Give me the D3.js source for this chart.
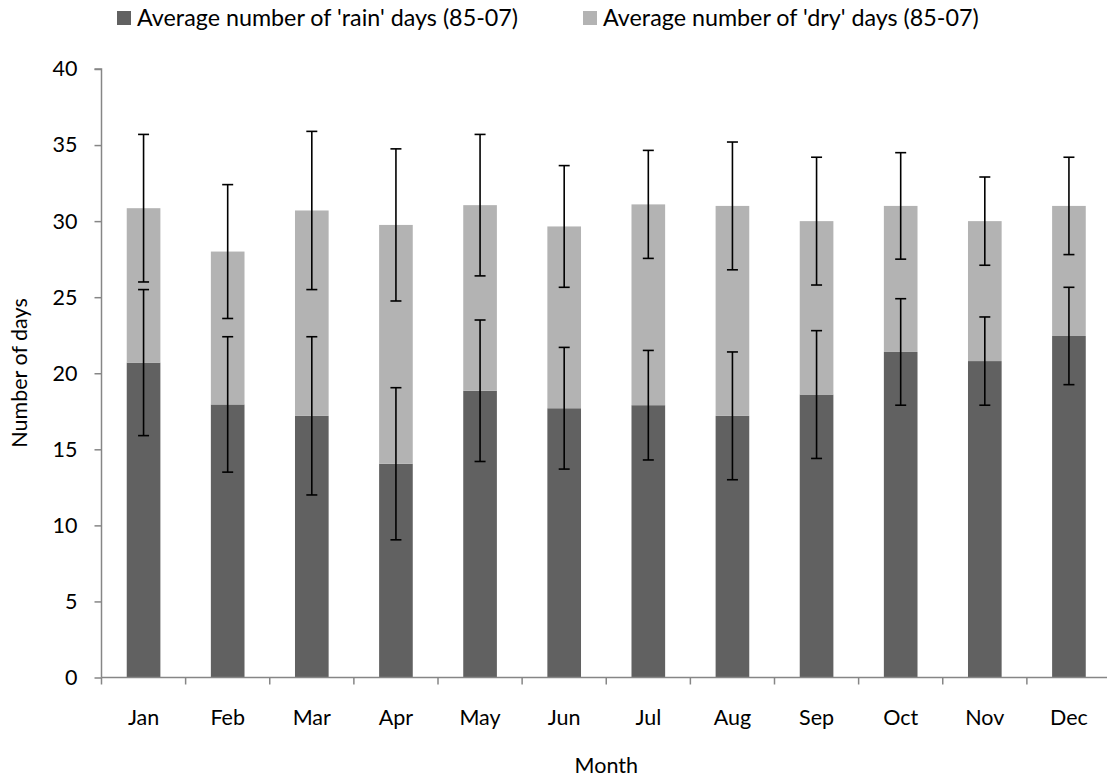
<!DOCTYPE html>
<html>
<head>
<meta charset="utf-8">
<script src="https://cdn.jsdelivr.net/npm/d3@7"></script>
<style>
  body { margin: 0; background: #fff; }
  text { font-family: Lato, "Open Sans", sans-serif; fill: #000; }
</style>
</head>
<body>
<div id="chart"></div>
<script>
// données
var months = ["Jan", "Feb", "Mar", "Apr", "May", "Jun", "Jul", "Aug", "Sep", "Oct", "Nov", "Dec"];
var rainDays = [20.7, 17.95, 17.2, 14.05, 18.85, 17.7, 17.9, 17.2, 18.6, 21.4, 20.8, 22.45];
var dryDays = [10.15, 10.05, 13.5, 15.7, 12.2, 11.95, 13.2, 13.8, 11.4, 9.6, 9.2, 8.55];
var rainErr = [4.8, 4.45, 5.2, 5.0, 4.65, 4.0, 3.6, 4.2, 4.2, 3.5, 2.9, 3.2];
var dryErr = [4.85, 4.4, 5.2, 5.0, 4.65, 4.0, 3.55, 4.2, 4.2, 3.5, 2.9, 3.2];
var yTicks = [0, 5, 10, 15, 20, 25, 30, 35, 40];
var seriesNames = ["Average number of 'rain' days (85-07)", "Average number of 'dry' days (85-07)"];
var colors = ["#616161", "#b3b3b3"];

var margin = { top: 69, left: 101.5 },
    W = 1107, H = 778,
    width = 1009.5,
    height = 677.5 - margin.top;

var fs = "21.5px";

var svg = d3.select("#chart").append("svg")
    .attr("width", W)
    .attr("height", H);

var g = svg.append("g")
    .attr("transform", "translate(" + margin.left + "," + margin.top + ")");

var x = d3.scaleBand().domain(months).range([0, width]).paddingInner(0.6).paddingOuter(0.3);
var y = d3.scaleLinear().domain([0, 40]).range([height, 0]);

// empiler les deux séries
var data = months.map(function(m, i) {
  return { month: m, rain: rainDays[i], dry: dryDays[i], rainErr: rainErr[i], dryErr: dryErr[i] };
});
var stack = d3.stack().keys(["rain", "dry"])(data);

g.selectAll(".serie")
  .data(stack).enter()
  .append("g")
  .attr("fill", function(d, i) { return colors[i]; })
  .selectAll("rect")
  .data(function(d) { return d; }).enter()
  .append("rect")
  .attr("x", function(d) { return x(d.data.month); })
  .attr("width", x.bandwidth())
  .attr("y", function(d) { return y(d[1]); })
  .attr("height", function(d) { return y(d[0]) - y(d[1]); });

// barres d'erreur
var errs = [];
data.forEach(function(d) {
  errs.push({ month: d.month, v: d.rain, e: d.rainErr });
  errs.push({ month: d.month, v: d.rain + d.dry, e: d.dryErr });
});
var cap = 5.5;
var eg = g.selectAll(".err").data(errs).enter().append("g")
  .attr("stroke", "#000").attr("stroke-width", 1.6);
eg.append("line")
  .attr("x1", function(d) { return x(d.month) + x.bandwidth() / 2; })
  .attr("x2", function(d) { return x(d.month) + x.bandwidth() / 2; })
  .attr("y1", function(d) { return y(d.v - d.e); })
  .attr("y2", function(d) { return y(d.v + d.e); });
[-1, 1].forEach(function(s) {
  eg.append("line")
    .attr("x1", function(d) { return x(d.month) + x.bandwidth() / 2 - cap; })
    .attr("x2", function(d) { return x(d.month) + x.bandwidth() / 2 + cap; })
    .attr("y1", function(d) { return y(d.v + s * d.e); })
    .attr("y2", function(d) { return y(d.v + s * d.e); });
});

// axe y
var yAxis = g.append("g")
  .call(d3.axisLeft(y).tickValues(yTicks).tickSize(7).tickPadding(17));
yAxis.selectAll("line, path").attr("stroke", "#868686").attr("stroke-width", 1.5);
yAxis.select(".domain").attr("d", "M-7,0H0V" + height);
yAxis.selectAll("text").style("font-size", fs).attr("font-family", null);

// axe x : graduations aux limites des catégories
var xAxis = g.append("g").attr("transform", "translate(0," + height + ")");
xAxis.append("line")
  .attr("x1", 0).attr("x2", width)
  .attr("stroke", "#868686").attr("stroke-width", 1.5);
xAxis.selectAll(".tick").data(d3.range(months.length + 1)).enter()
  .append("line")
  .attr("x1", function(i) { return i * x.step(); })
  .attr("x2", function(i) { return i * x.step(); })
  .attr("y1", 0).attr("y2", 7)
  .attr("stroke", "#868686").attr("stroke-width", 1.5);
xAxis.selectAll(".lab").data(months).enter()
  .append("text")
  .attr("x", function(m) { return x(m) + x.bandwidth() / 2; })
  .attr("y", 725 - 677.5)
  .attr("text-anchor", "middle")
  .style("font-size", fs)
  .text(function(m) { return m; });

// titres des axes
svg.append("text")
  .attr("x", margin.left + width / 2)
  .attr("y", 773)
  .attr("text-anchor", "middle")
  .style("font-size", fs)
  .text("Month");
svg.append("text")
  .attr("transform", "translate(27,373) rotate(-90)")
  .attr("text-anchor", "middle")
  .style("font-size", fs)
  .text("Number of days");

// légende
var legX = [117, 583];
var leg = svg.selectAll(".leg").data(seriesNames).enter().append("g")
  .attr("transform", function(d, i) { return "translate(" + legX[i] + ",0)"; });
leg.append("rect")
  .attr("y", 11).attr("width", 14).attr("height", 14)
  .attr("fill", function(d, i) { return colors[i]; });
leg.append("text")
  .attr("x", 20).attr("y", 26)
  .style("font-size", "23.3px")
  .text(function(d) { return d; });
</script>
</body>
</html>
